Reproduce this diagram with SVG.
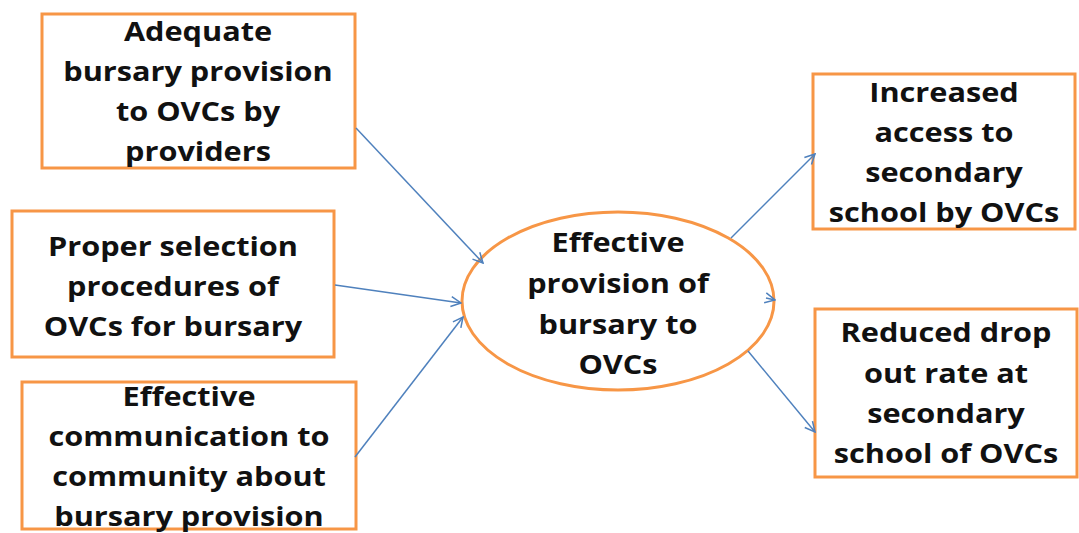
<svg xmlns="http://www.w3.org/2000/svg" width="1079" height="533" viewBox="0 0 1079 533">
<defs>
<style>
.box{fill:#fff;stroke:#f79646;stroke-width:3}
.t{font-family:"Open Sans","Liberation Sans",sans-serif;font-weight:700;font-size:26px;fill:#111;text-anchor:middle}
.c{stroke:#4f81bd;stroke-width:1.5;fill:none;marker-end:url(#ah)}
</style>
<marker id="ah" viewBox="0 0 12 12" refX="11" refY="6" markerWidth="12" markerHeight="12" markerUnits="userSpaceOnUse" orient="auto">
<path d="M1,1 L11,6 L1,11" fill="none" stroke="#4f81bd" stroke-width="1.5"/>
</marker>
</defs>
<rect width="1079" height="533" fill="#fff"/>
<g id="n1"><rect class="box" x="42" y="14" width="313" height="154"/>
<g transform="translate(198,0) scale(1.18,1)"><text class="t" x="0" y="41">Adequate</text><text class="t" x="0" y="81">bursary provision</text><text class="t" x="0" y="121">to OVCs by</text><text class="t" x="0" y="161">providers</text></g></g>
<g id="n2"><rect class="box" x="12" y="211" width="322" height="146"/>
<g transform="translate(173,0) scale(1.18,1)"><text class="t" x="0" y="256">Proper selection</text><text class="t" x="0" y="296">procedures of</text><text class="t" x="0" y="336">OVCs for bursary</text></g></g>
<g id="n3"><rect class="box" x="22" y="382" width="334" height="147"/>
<g transform="translate(189,0) scale(1.18,1)"><text class="t" x="0" y="406">Effective</text><text class="t" x="0" y="446">communication to</text><text class="t" x="0" y="486">community about</text><text class="t" x="0" y="526">bursary provision</text></g></g>
<g id="n4"><ellipse class="box" cx="618" cy="301" rx="156" ry="89"/>
<g transform="translate(618,0) scale(1.18,1)"><text class="t" x="0" y="252">Effective</text><text class="t" x="0" y="293">provision of</text><text class="t" x="0" y="334">bursary to</text><text class="t" x="0" y="374">OVCs</text></g></g>
<g id="n5"><rect class="box" x="813" y="74" width="262" height="155"/>
<g transform="translate(944,0) scale(1.18,1)"><text class="t" x="0" y="102">Increased</text><text class="t" x="0" y="142">access to</text><text class="t" x="0" y="182">secondary</text><text class="t" x="0" y="222">school by OVCs</text></g></g>
<g id="n6"><rect class="box" x="815" y="309" width="262" height="168"/>
<g transform="translate(946,0) scale(1.18,1)"><text class="t" x="0" y="342">Reduced drop</text><text class="t" x="0" y="383">out rate at</text><text class="t" x="0" y="423">secondary</text><text class="t" x="0" y="463">school of OVCs</text></g></g>
<g id="connectors">
<path class="c" d="M356,128 L483,263"/>
<path class="c" d="M335,285 L461,303"/>
<path class="c" d="M355,457 L463,317"/>
<path class="c" d="M731,238 L815,154"/>
<path class="c" d="M748,351 L815,432"/>
<path class="c" d="M766,298 L775,300"/>
</g>
</svg>
